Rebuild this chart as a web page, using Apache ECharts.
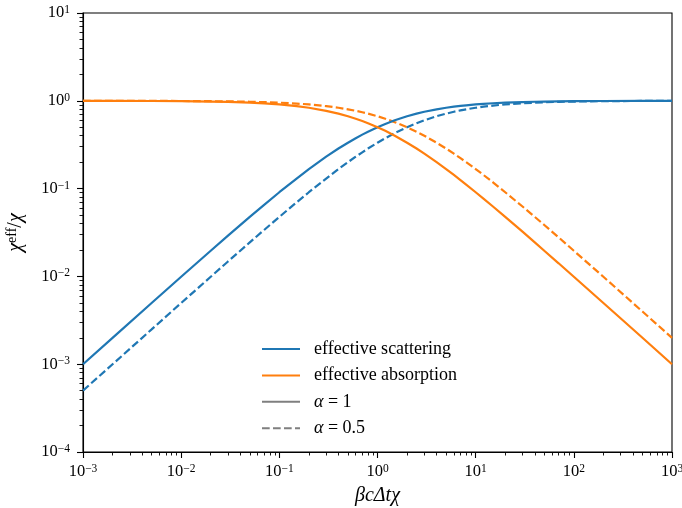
<!DOCTYPE html>
<html><head><meta charset="utf-8">
<script src="https://cdn.jsdelivr.net/npm/echarts@6/dist/echarts.min.js"></script>
<style>html,body{margin:0;padding:0;background:#fff}#c{width:682px;height:508px}</style>
</head><body><div id="c"></div>
<script>
var xs = [0.001,0.002,0.005,0.01,0.02,0.03,0.05,0.07,0.1,0.15,0.2,0.3,0.4,0.5,0.6,0.7,0.8,1,1.2,1.5,2,2.5,3,4,5,6,7,8,10,12,15,20,30,40,50,70,100,200,500,1000];
var scatA1 = [0.000999,0.001996,0.004975,0.0099,0.0196,0.0291,0.0476,0.0654,0.0909,0.130,0.167,0.231,0.286,0.333,0.375,0.412,0.444,0.5,0.545,0.6,0.667,0.714,0.75,0.8,0.833,0.857,0.875,0.889,0.909,0.923,0.9375,0.952,0.968,0.976,0.980,0.986,0.990,0.995,0.998,0.999];
var scatA05 = [0.0005,0.000999,0.00249,0.00498,0.0099,0.0148,0.0244,0.0338,0.0476,0.0698,0.0909,0.130,0.167,0.2,0.231,0.259,0.286,0.333,0.375,0.429,0.5,0.556,0.6,0.667,0.714,0.75,0.778,0.8,0.833,0.857,0.882,0.909,0.9375,0.952,0.962,0.972,0.980,0.990,0.996,0.998];
var absA1 = [0.999,0.998,0.995,0.990,0.980,0.971,0.952,0.935,0.909,0.870,0.833,0.769,0.714,0.667,0.625,0.588,0.556,0.5,0.455,0.4,0.333,0.286,0.25,0.2,0.167,0.143,0.125,0.111,0.0909,0.0769,0.0625,0.0476,0.0323,0.0244,0.0196,0.0141,0.0099,0.00498,0.002,0.000999];
var absA05 = [0.9995,0.999,0.9975,0.995,0.990,0.985,0.976,0.966,0.952,0.930,0.909,0.870,0.833,0.8,0.769,0.741,0.714,0.667,0.625,0.571,0.5,0.444,0.4,0.333,0.286,0.25,0.222,0.2,0.167,0.143,0.118,0.0909,0.0625,0.0476,0.0385,0.0278,0.0196,0.0099,0.00398,0.001996];
var xMajor = [0.001,0.01,0.1,1,10,100,1000];
var yMajor = [0.0001,0.001,0.01,0.1,1,10];
var xMinor = [], yMinor = [];
xMajor.slice(0,-1).forEach(function(d){for(var k=2;k<10;k++) xMinor.push(+(d*k).toPrecision(3));});
yMajor.slice(0,-1).forEach(function(d){for(var k=2;k<10;k++) yMinor.push(+(d*k).toPrecision(3));});
var legendNames = ['effective scattering','effective absorption','α = 1','α = 0.5'];

var FONT = 'Liberation Serif';
function pairs(y){return xs.map(function(x,i){return [x,y[i]];});}
function powLabel(v){var e=Math.round(Math.log10(v));return '{b|10}{s|'+(e<0?'\u2212'+(-e):e)+'}';}
var rich = {b:{fontSize:16.5,fontFamily:FONT,color:'#000',lineHeight:18},s:{fontSize:11.5,fontFamily:FONT,color:'#000',verticalAlign:'top',lineHeight:11}};
var BLUE='#1f77b4', ORANGE='#ff7f0e', GRAY='#7f7f7f', DASH=[7.7,3.3];

function mkAxis(type, isMinor){
  var major = type==='x'?xMajor:yMajor, minor = type==='x'?xMinor:yMinor;
  return {
    type:'log', logBase:10, gridIndex:0,
    min: major[0], max: major[major.length-1],
    position: type==='x'?'bottom':'left',
    axisLine:{show:!isMinor,onZero:false,lineStyle:{color:'#000',width:1.1}},
    axisTick:{show:true,inside:false,length:isMinor?3.5:6,customValues:isMinor?minor:major,lineStyle:{color:'#000',width:isMinor?0.9:1.1}},
    axisLabel:{show:!isMinor,customValues:major,formatter:powLabel,rich:rich,margin:isMinor?0:(type==='x'?11:13),hideOverlap:false},
    splitLine:{show:false}, minorTick:{show:false}, minorSplitLine:{show:false}
  };
}
var xA = mkAxis('x',false), xB = mkAxis('x',true), yA = mkAxis('y',false), yB = mkAxis('y',true);
xA.name = 'βcΔtχ'; xA.nameLocation='middle'; xA.nameGap=33;
xA.nameTextStyle={fontFamily:FONT,fontSize:20,fontStyle:'italic',color:'#000'};
yA.name = '{i|χ}{s|eff}{n|/}{i|χ}'; yA.nameLocation='middle'; yA.nameGap=56;
yA.nameTextStyle={color:'#000',rich:{i:{fontFamily:FONT,fontSize:20,fontStyle:'italic',lineHeight:22},n:{fontFamily:FONT,fontSize:20,lineHeight:22},s:{fontFamily:FONT,fontSize:14,verticalAlign:'top',lineHeight:12}}};

function line(name,data,color,dash,z){
  return {name:name,type:'line',xAxisIndex:0,yAxisIndex:0,data:data,symbol:'none',showSymbol:false,
    lineStyle:{color:color,width:2.2,type:dash?DASH:'solid'},itemStyle:{color:color},z:z,animation:false,clip:true};
}
var option = {
  animation:false,
  grid:{left:83,right:10,top:13,bottom:56,show:true,borderColor:'#000',borderWidth:1.1,backgroundColor:'#fff',
    containLabel:false,outerBoundsMode:'none'},
  xAxis:[xA,xB], yAxis:[yA,yB],
  legend:{show:true,orient:'vertical',left:261,top:340,padding:0,itemWidth:38,itemHeight:14,itemGap:8.4,
    data:legendNames, selectedMode:false, itemStyle:{opacity:0},
    textStyle:{fontFamily:FONT,fontSize:18,color:'#000',padding:[0,0,0,9],
      rich:{i:{fontFamily:FONT,fontSize:18,fontStyle:'italic',color:'#000'},t:{fontFamily:FONT,fontSize:18,color:'#000'}}},
    formatter:function(n){ if(n.indexOf('α')===0) return '{i|α}{t|'+n.slice(1)+'}'; return n; }
  },
  series:[
    line('effective scattering',pairs(scatA1),BLUE,false,3),
    line('effective absorption',pairs(absA1),ORANGE,false,3),
    line('effective scattering',pairs(scatA05),BLUE,true,2),
    line('effective absorption',pairs(absA05),ORANGE,true,2),
    line('α = 1',[],GRAY,false,1),
    line('α = 0.5',[],GRAY,true,1)
  ]
};
var chart = echarts.init(document.getElementById('c'),null,{renderer:'canvas'});
chart.setOption(option);
</script></body></html>
